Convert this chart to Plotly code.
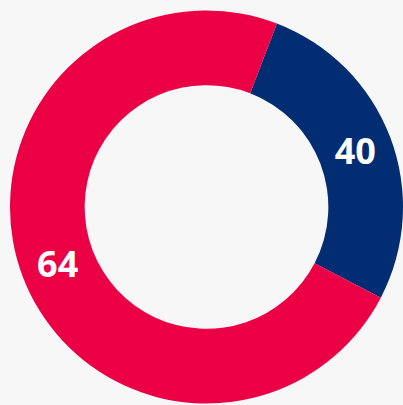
import plotly.graph_objects as go

# Values shown on the slices
labels = ["Navy", "Crimson"]
label_values = [40, 64]
# Angular share of each slice (percent of the ring)
shares = [26.8, 73.2]
colors = ["#032D73", "#EB0046"]

fig = go.Figure(
    go.Pie(
        labels=labels,
        values=shares,
        text=[str(v) for v in label_values],
        textinfo="text",
        textposition="inside",
        insidetextorientation="horizontal",
        textfont=dict(family="Open Sans", size=36, color="white", weight="bold"),
        marker=dict(colors=colors, line=dict(width=0)),
        hole=0.62,
        sort=False,
        direction="clockwise",
        rotation=21,
        hoverinfo="skip",
        showlegend=False,
    )
)

fig.update_layout(
    width=403,
    height=405,
    margin=dict(l=10, r=0, t=10, b=1),
    paper_bgcolor="#F7F7F7",
    plot_bgcolor="#F7F7F7",
)

fig.write_html(
    "out.html",
    config={"displayModeBar": False},
    post_script="document.body.style.margin='0';document.body.style.background='#F7F7F7';document.body.style.overflow='hidden';",
)
